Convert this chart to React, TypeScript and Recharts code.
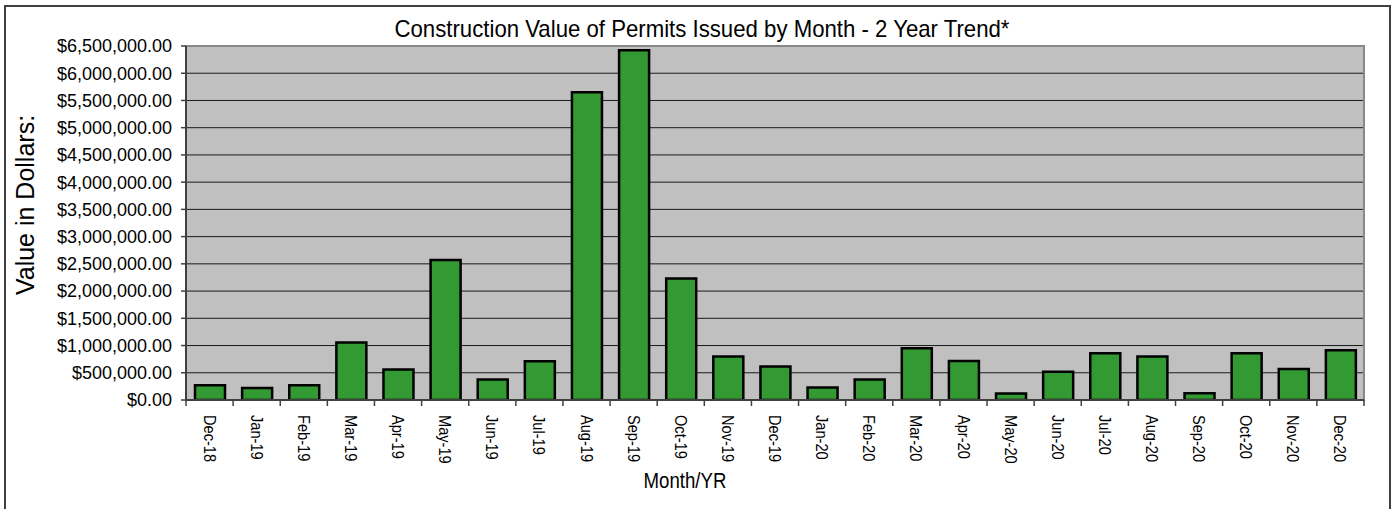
import React from 'react';
import {
  BarChart,
  Bar,
  XAxis,
  YAxis,
  CartesianGrid,
  ReferenceArea,
} from 'recharts';

const months: string[] = [
  'Dec-18', 'Jan-19', 'Feb-19', 'Mar-19', 'Apr-19', 'May-19', 'Jun-19', 'Jul-19',
  'Aug-19', 'Sep-19', 'Oct-19', 'Nov-19', 'Dec-19', 'Jan-20', 'Feb-20', 'Mar-20',
  'Apr-20', 'May-20', 'Jun-20', 'Jul-20', 'Aug-20', 'Sep-20', 'Oct-20', 'Nov-20', 'Dec-20',
];

const values: number[] = [
  270000, 220000, 272000, 1055000, 560000, 2570000, 375000, 710000,
  5650000, 6420000, 2230000, 800000, 615000, 230000, 375000, 950000,
  715000, 120000, 520000, 860000, 800000, 125000, 860000, 570000, 915000,
];

const yTicks: number[] = [
  0, 500000, 1000000, 1500000, 2000000, 2500000, 3000000, 3500000,
  4000000, 4500000, 5000000, 5500000, 6000000, 6500000,
];

const TITLE = 'Construction Value of Permits Issued by Month - 2 Year Trend*';
const Y_TITLE = 'Value in Dollars:';
const X_TITLE = 'Month/YR';

const data = months.map((m, i) => ({ month: m, value: values[i] }));

const W = 1397;
const H = 509;
const MARGIN = { top: 46, right: 33, left: 0, bottom: 0 };
const Y_AXIS_W = 186;
const X_AXIS_H = 109;
const FONT = "'Liberation Sans', Arial, sans-serif";
const PLOT_W = W - MARGIN.right - MARGIN.left - Y_AXIS_W;
const HALF_BAND = PLOT_W / months.length / 2;

const fmtMoney = (v: number) =>
  '$' + v.toLocaleString('en-US', { minimumFractionDigits: 2, maximumFractionDigits: 2 });

const XTick = (props: any) => {
  const { x, y, payload, index } = props;
  const last = index === months.length - 1;
  return (
    <g>
      <line x1={x - HALF_BAND} x2={x - HALF_BAND} y1={y - 5} y2={y + 1} stroke="#404040" strokeWidth={1.5} />
      {last && (
        <line x1={x + HALF_BAND} x2={x + HALF_BAND} y1={y - 5} y2={y + 1} stroke="#404040" strokeWidth={1.5} />
      )}
      <text
        transform={`translate(${x},${y + 10}) rotate(90) scale(0.86,1)`}
        x={0}
        y={0}
        dy="0.35em"
        textAnchor="start"
        fontSize={17}
        fontFamily={FONT}
        fill="#000"
      >
        {payload.value}
      </text>
    </g>
  );
};

export default function App() {
  return (
    <div
      style={{
        position: 'absolute',
        left: 0,
        top: 0,
        width: W,
        height: H,
        overflow: 'hidden',
        background: '#fff',
        fontFamily: FONT,
      }}
    >
      <div
        style={{
          position: 'absolute',
          left: 4,
          top: 5,
          width: 1387,
          height: 620,
          border: '2px solid #404040',
          boxSizing: 'border-box',
        }}
      />
      <div style={{ position: 'absolute', left: 0, top: 0 }}>
        <BarChart width={W} height={H} data={data} margin={MARGIN}>
          <CartesianGrid
            vertical={false}
            stroke="#1a1a1a"
            strokeWidth={1}
            fill="#C0C0C0"
            fillOpacity={1}
          />
          <ReferenceArea
            y1={0}
            y2={6500000}
            fill="none"
            stroke="#888888"
            strokeWidth={2}
            ifOverflow="visible"
          />
          <XAxis
            dataKey="month"
            interval={0}
            height={X_AXIS_H}
            tickLine={false}
            tickSize={5}
            tickMargin={0}
            axisLine={{ stroke: '#404040', strokeWidth: 2 }}
            tick={<XTick />}
          />
          <YAxis
            width={Y_AXIS_W}
            domain={[0, 6500000]}
            ticks={yTicks}
            interval={0}
            allowDataOverflow
            tickFormatter={fmtMoney}
            tickSize={5}
            tickMargin={9}
            tickLine={{ stroke: '#404040', strokeWidth: 1.5 }}
            axisLine={{ stroke: '#404040', strokeWidth: 2 }}
            tick={{ fill: '#000', fontSize: 18, fontFamily: FONT }}
          />
          <Bar
            dataKey="value"
            fill="#339933"
            stroke="#000"
            strokeWidth={2.5}
            barSize={30}
            isAnimationActive={false}
          />
        </BarChart>
      </div>
      <svg
        width={W}
        height={H}
        style={{ position: 'absolute', left: 0, top: 0, pointerEvents: 'none' }}
      >
        <text
          transform="translate(702,37) scale(0.965,1)"
          textAnchor="middle"
          fontSize={23}
          fontFamily={FONT}
          fill="#000"
        >
          {TITLE}
        </text>
        <text
          transform="translate(34,205) rotate(-90)"
          textAnchor="middle"
          fontSize={25}
          fontFamily={FONT}
          fill="#000"
        >
          {Y_TITLE}
        </text>
        <text
          transform="translate(685,488) scale(0.81,1)"
          textAnchor="middle"
          fontSize={23}
          fontFamily={FONT}
          fill="#000"
        >
          {X_TITLE}
        </text>
      </svg>
    </div>
  );
}
